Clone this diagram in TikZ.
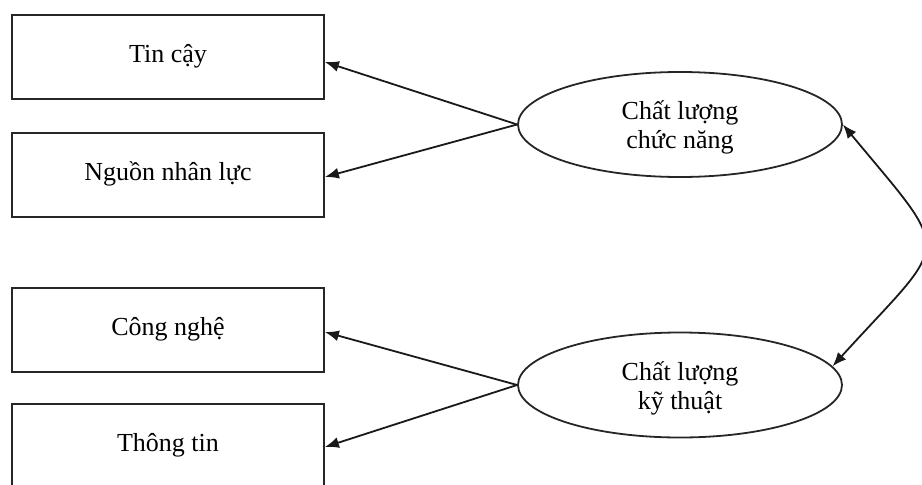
\documentclass[tikz,border=0pt]{standalone}
\usepackage{fontspec}
\setmainfont{Liberation Serif}
\usetikzlibrary{shapes.geometric,arrows.meta}

\tikzset{
  stroke/.style={line width=1.8pt, draw=black!85},
  itembox/.style={stroke, rectangle, minimum width=312pt, minimum height=84pt,
    inner sep=0pt, font=\fontsize{26}{30}\selectfont, text height=18pt, text depth=6.5pt},
  factor/.style={stroke, ellipse, minimum width=324pt, minimum height=105pt,
    inner sep=0pt, align=center, font=\fontsize{26}{29}\selectfont,
    text height=54pt, text depth=6pt},
  link/.style={line width=1.8pt, draw=black!90, -{Latex[length=14pt,width=11pt]}},
  bothways/.style={line width=1.8pt, draw=black!90,
    {Latex[length=14pt,width=11pt]}-{Latex[length=14pt,width=11pt]}}
}

\begin{document}
\begin{tikzpicture}[x=1pt, y=-1pt]
  \useasboundingbox (0,0) rectangle (922,485);
  \begin{scope}
    \clip (0,0) rectangle (922,485);

    % measured items
    \node[itembox] (trust)  at (168,57)  {Tin cậy};
    \node[itembox] (staff)  at (168,175) {Nguồn nhân lực};
    \node[itembox] (techno) at (168,330) {Công nghệ};
    \node[itembox] (info)   at (168,446) {Thông tin};

    % latent factors
    \node[factor] (func) at (680,124.5) {Chất lượng\\chức năng};
    \node[factor] (tech) at (680,385)   {Chất lượng\\kỹ thuật};

    % loadings
    \draw[link] (func.west) -- ([yshift=-5pt]trust.east);
    \draw[link] (func.west) -- ([yshift=-2pt]staff.east);
    \draw[link] (tech.west) -- ([yshift=-2pt]techno.east);
    \draw[link] (tech.west) -- ([yshift=-1pt]info.east);

    % correlation between the factors
    \draw[bothways] (func.east) .. controls +(112,135) and +(118,-130) .. (tech.7);
  \end{scope}
\end{tikzpicture}
\end{document}
